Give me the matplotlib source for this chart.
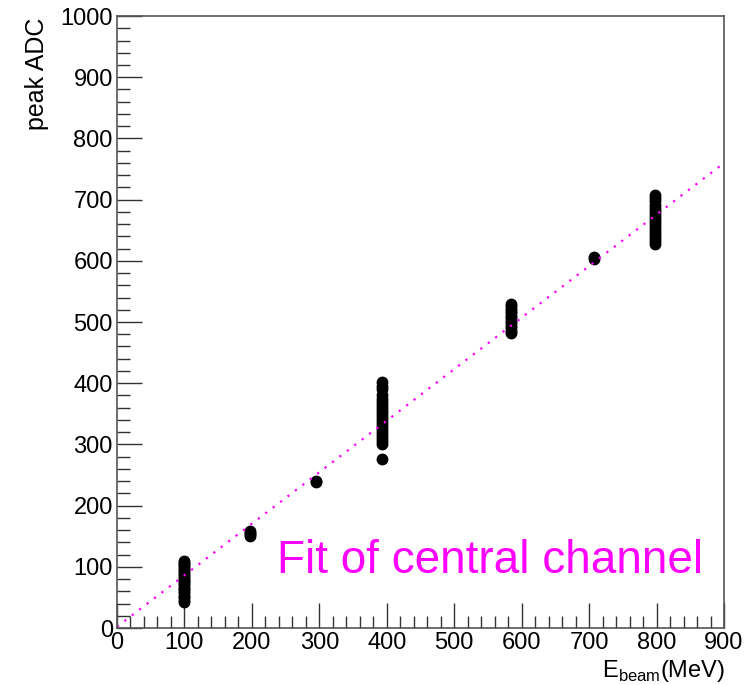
import numpy as np
import matplotlib.pyplot as plt
from matplotlib.ticker import MultipleLocator

plt.rcParams['font.family'] = ['Liberation Sans', 'DejaVu Sans']
plt.rcParams['mathtext.fontset'] = 'custom'
plt.rcParams['mathtext.rm'] = 'Liberation Sans'

# peak ADC per beam energy (MeV)
e100 = [42, 46, 50, 53, 57, 60, 63, 66, 70, 73, 76, 79, 82, 85, 88, 91, 95, 98, 101, 104, 107, 110]
e200 = [150, 153, 156, 158]
e300 = [238, 241]
e390 = [276, 300, 305, 310, 315, 320, 325, 330, 335, 340, 345, 350, 355, 360, 365,
        370, 375, 380, 390, 396, 402]
e585 = [482, 486, 490, 494, 498, 502, 506, 510, 514, 518, 522, 526, 530]
e705 = [603, 606]
e800 = [627, 632, 637, 642, 647, 652, 657, 662, 667, 672, 677, 682, 687, 692, 697, 702, 707]

energies = [99, 197, 295, 393, 584, 707, 798]
adc = [e100, e200, e300, e390, e585, e705, e800]

# linear fit of the central channel
p0, p1 = 2.0, 0.842
fit_range = [0, 900]

fig = plt.figure(figsize=(7.48, 6.85), dpi=100)
ax = fig.add_axes([0.1564, 0.0832, 0.9679 - 0.1564, 0.9766 - 0.0832])

for e, vals in zip(energies, adc):
    ax.plot([e] * len(vals), vals, 'o', color='black', ms=7.5, mec='black')

xf = np.array(fit_range, dtype=float)
ax.plot(xf, p0 + p1 * xf, color='#ff00ff', lw=1.6, linestyle=(0, (1, 3.2)))

ax.text(237, 90, "Fit of central channel", color='#ff00ff', fontsize=33,
        va='baseline', ha='left')

ax.set_xlim(0, 900)
ax.set_ylim(0, 1000)
ax.xaxis.set_major_locator(MultipleLocator(100))
ax.xaxis.set_minor_locator(MultipleLocator(20))
ax.yaxis.set_major_locator(MultipleLocator(100))
ax.yaxis.set_minor_locator(MultipleLocator(20))
ax.tick_params(which='both', direction='in', top=False, right=False,
               labelsize=17, color='#333333')
ax.tick_params(which='major', length=18, width=1)
ax.tick_params(which='minor', length=9, width=1)
ax.tick_params(axis='x', pad=3)
ax.tick_params(axis='y', pad=3)
for s in ax.spines.values():
    s.set_color('#555555')
    s.set_linewidth(1.2)

fig.text(0.05, 0.975, "peak ADC", rotation=90, fontsize=18, ha='center', va='top')
fig.text(0.969, 0.0117, r"E$_{\mathrm{beam}}$(MeV)", fontsize=17, ha='right', va='baseline')

fig.savefig("out.png", dpi=100)
